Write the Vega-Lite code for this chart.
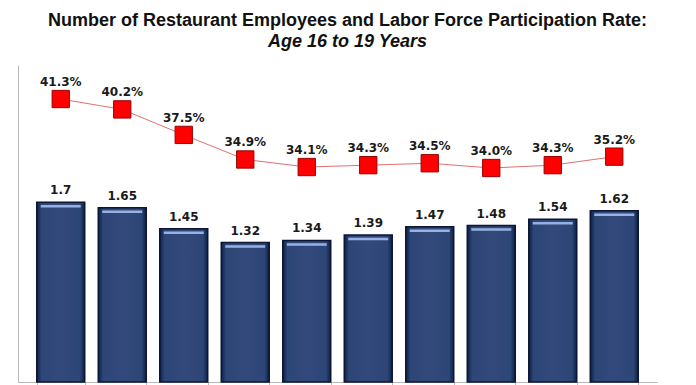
{
  "$schema": "https://vega.github.io/schema/vega-lite/v6.json",
  "autosize": "none",
  "width": 639,
  "height": 317,
  "padding": {"left": 18, "top": 65, "right": 39, "bottom": 3},
  "background": "white",
  "title": {
    "text": "Number of Restaurant Employees and Labor Force Participation Rate:",
    "subtitle": "Age 16 to 19 Years",
    "anchor": "middle",
    "dx": 10,
    "offset": 14,
    "font": "Liberation Sans",
    "fontSize": 18,
    "fontWeight": "bold",
    "color": "#111111",
    "subtitleFont": "Liberation Sans",
    "subtitleFontSize": 18,
    "subtitleFontWeight": "bold",
    "subtitleFontStyle": "italic",
    "subtitleColor": "#111111",
    "subtitlePadding": 3
  },
  "config": {
    "view": {"stroke": null},
    "axis": {"grid": false, "labels": false, "title": null}
  },
  "data": {
    "values": [
      {"period": 1, "employees": 1.7, "rate": 0.413},
      {"period": 2, "employees": 1.65, "rate": 0.402},
      {"period": 3, "employees": 1.45, "rate": 0.375},
      {"period": 4, "employees": 1.32, "rate": 0.349},
      {"period": 5, "employees": 1.34, "rate": 0.341},
      {"period": 6, "employees": 1.39, "rate": 0.343},
      {"period": 7, "employees": 1.47, "rate": 0.345},
      {"period": 8, "employees": 1.48, "rate": 0.340},
      {"period": 9, "employees": 1.54, "rate": 0.343},
      {"period": 10, "employees": 1.62, "rate": 0.352}
    ]
  },
  "encoding": {
    "x": {
      "field": "period",
      "type": "ordinal",
      "scale": {"paddingInner": 0.22, "paddingOuter": 0.305},
      "axis": {
        "domainColor": "#b8b8b8",
        "tickColor": "#b8b8b8",
        "tickSize": 4,
        "tickBand": "extent",
        "labels": false,
        "title": null
      }
    }
  },
  "layer": [
    {
      "encoding": {
        "y": {
          "field": "employees",
          "type": "quantitative",
          "scale": {"domain": [0, 3], "nice": false},
          "axis": {
            "orient": "left",
            "domainColor": "#b8b8b8",
            "ticks": false,
            "labels": false,
            "title": null
          }
        }
      },
      "layer": [
        {
          "mark": {
            "type": "bar",
            "stroke": "#0a1633",
            "strokeWidth": 1.5,
            "color": {
              "gradient": "linear",
              "x1": 0, "y1": 0, "x2": 1, "y2": 0,
              "stops": [
                {"offset": 0, "color": "#0f1f45"},
                {"offset": 0.1, "color": "#2c4676"},
                {"offset": 0.5, "color": "#34497b"},
                {"offset": 0.9, "color": "#2c4676"},
                {"offset": 1, "color": "#0f1f45"}
              ]
            }
          }
        },
        {
          "mark": {
            "type": "tick",
            "color": "#97b2e2",
            "thickness": 2.5,
            "size": 40,
            "yOffset": 4,
            "opacity": 1
          }
        },
        {
          "mark": {
            "type": "text",
            "dy": -12,
            "baseline": "middle",
            "font": "DejaVu Sans",
            "fontWeight": "bold",
            "fontSize": 12,
            "color": "#1a1a1a"
          },
          "encoding": {"text": {"field": "employees", "type": "quantitative"}}
        }
      ]
    },
    {
      "encoding": {
        "y": {
          "field": "rate",
          "type": "quantitative",
          "scale": {"domain": [0.1135, 0.449], "nice": false, "zero": false},
          "axis": null
        }
      },
      "layer": [
        {
          "mark": {"type": "line", "color": "#e07070", "strokeWidth": 1}
        },
        {
          "mark": {
            "type": "point",
            "shape": "square",
            "size": 300,
            "filled": true,
            "color": "#ff0000",
            "stroke": "#9a0000",
            "strokeWidth": 1,
            "opacity": 1
          }
        },
        {
          "mark": {
            "type": "text",
            "dy": -17,
            "baseline": "middle",
            "font": "DejaVu Sans",
            "fontWeight": "bold",
            "fontSize": 12,
            "color": "#1a1a1a"
          },
          "encoding": {
            "text": {"field": "rate", "type": "quantitative", "format": ".1%"}
          }
        }
      ]
    }
  ],
  "resolve": {"scale": {"y": "independent"}}
}
